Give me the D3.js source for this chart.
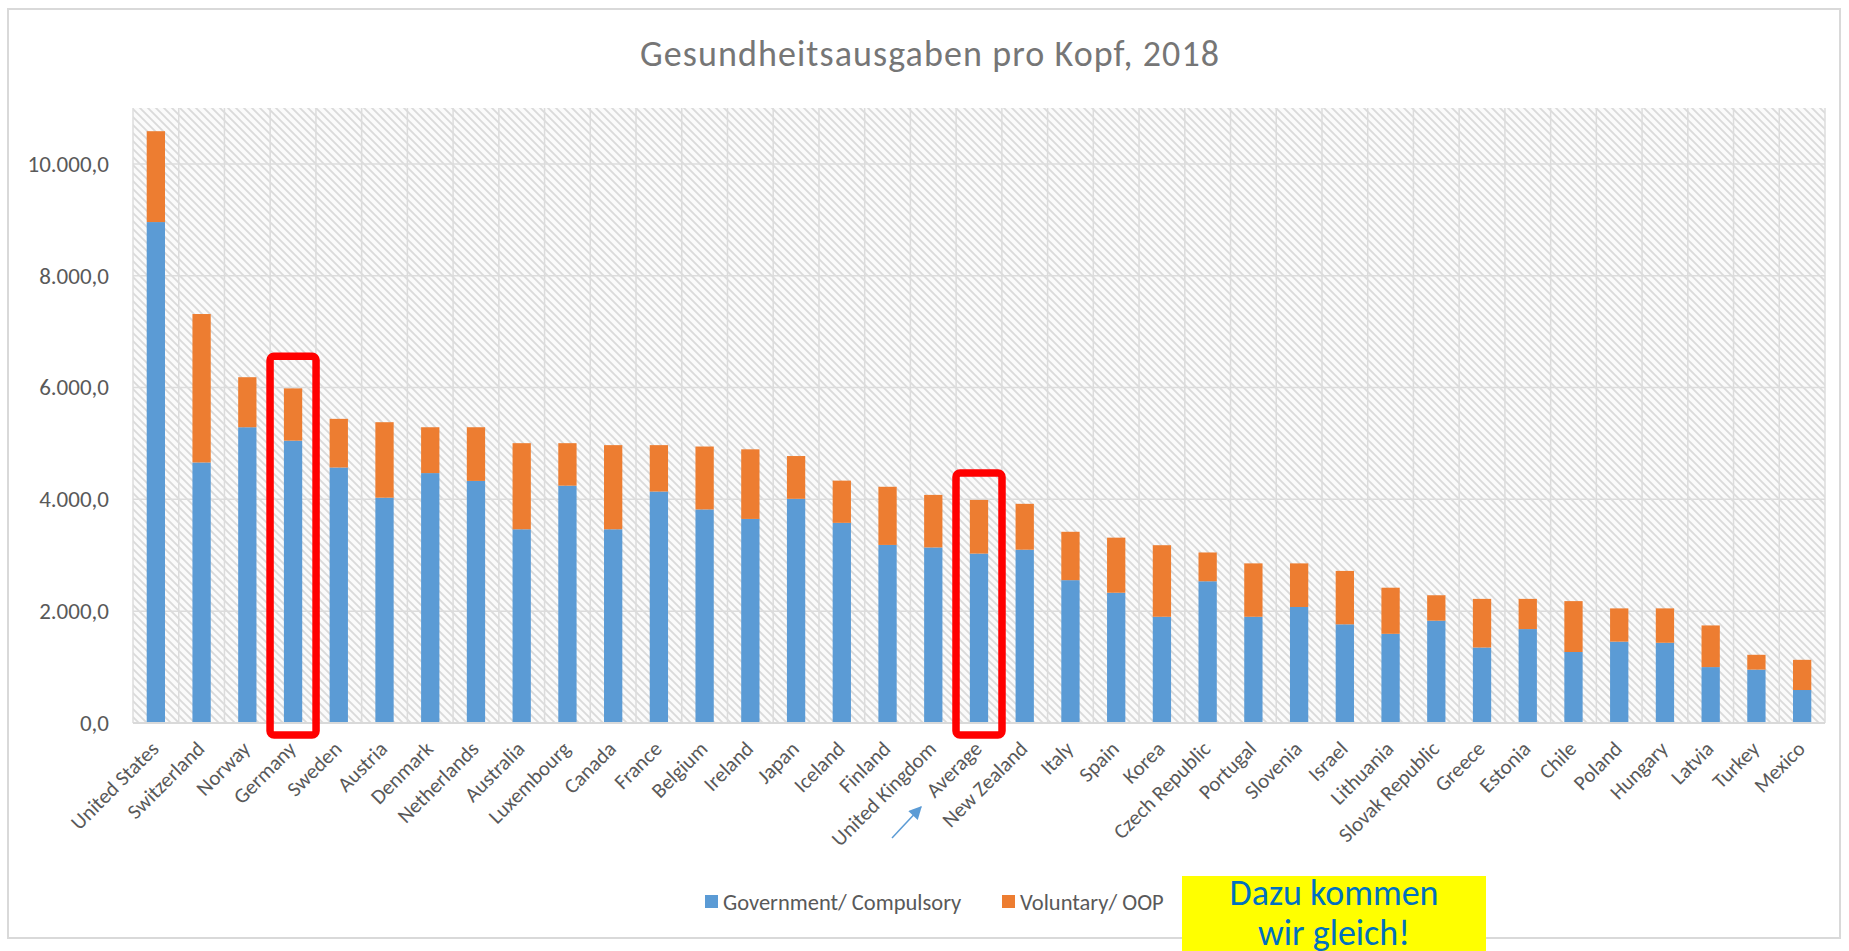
<!DOCTYPE html>
<html lang="de">
<head>
<meta charset="UTF-8" />
<title>Gesundheitsausgaben pro Kopf, 2018</title>
<style>
  body { margin: 0; background: #fff; }
  svg { display: block; font-family: Calibri, Carlito, Lato, sans-serif; }
</style>
</head>
<body>
<svg id="chart" width="1849" height="951"></svg>
<script src="https://d3js.org/d3.v7.min.js"></script>
<script>
// categories as in the chart, sorted by total spending
const countries = ["United States", "Switzerland", "Norway", "Germany", "Sweden", "Austria",
  "Denmark", "Netherlands", "Australia", "Luxembourg", "Canada", "France", "Belgium",
  "Ireland", "Japan", "Iceland", "Finland", "United Kingdom", "Average", "New Zealand",
  "Italy", "Spain", "Korea", "Czech Republic", "Portugal", "Slovenia", "Israel",
  "Lithuania", "Slovak Republic", "Greece", "Estonia", "Chile", "Poland", "Hungary",
  "Latvia", "Turkey", "Mexico"];

// Government/ Compulsory (per capita)
const government = [8960, 4660, 5290, 5050, 4570, 4030, 4470, 4330, 3465, 4245, 3465, 4140,
  3820, 3650, 4010, 3580, 3185, 3140, 3030, 3100, 2555, 2330, 1900, 2535, 1900, 2075,
  1765, 1595, 1830, 1350, 1680, 1270, 1455, 1435, 1000, 955, 590];

// totals
const total = [10585, 7315, 6185, 5985, 5440, 5380, 5290, 5290, 5005, 5005, 4970, 4970,
  4945, 4895, 4775, 4335, 4225, 4080, 3990, 3920, 3420, 3315, 3180, 3050, 2855, 2855,
  2720, 2420, 2285, 2220, 2220, 2180, 2050, 2050, 1745, 1220, 1130];

// Voluntary/ OOP = remainder
const voluntary = total.map((t, i) => t - government[i]);

const yTicks = [0, 2000, 4000, 6000, 8000, 10000];
const seriesNames = ["Government/ Compulsory", "Voluntary/ OOP"];
const seriesColors = ["#5b9bd5", "#ed7d31"];

// red boxes drawn on the slide
const highlights = ["Germany", "Average"];
const highlightTops = [6560, 4470];

const svg = d3.select("#chart");
const plot = { left: 133, right: 1825, top: 108, bottom: 723 };

// chart frame
svg.append("rect")
  .attr("x", 8).attr("y", 9).attr("width", 1832).attr("height", 929)
  .attr("fill", "#fff").attr("stroke", "#d9d9d9").attr("stroke-width", 2);

// hatched plot background
const defs = svg.append("defs");
const pat = defs.append("pattern")
  .attr("id", "hatch").attr("patternUnits", "userSpaceOnUse")
  .attr("width", 8).attr("height", 8);
pat.append("rect").attr("width", 8).attr("height", 8).attr("fill", "#fbfbfb");
pat.append("path")
  .attr("d", "M-2,-2 L10,10 M-2,6 L2,10 M6,-2 L10,2")
  .attr("stroke", "#dadada").attr("stroke-width", 1.8);

const x = d3.scaleBand()
  .domain(countries)
  .range([plot.left, plot.right])
  .paddingInner(0.6)
  .paddingOuter(0.3);

const y = d3.scaleLinear()
  .domain([0, 11000])
  .range([plot.bottom, plot.top]);

svg.append("rect")
  .attr("x", plot.left).attr("y", plot.top)
  .attr("width", plot.right - plot.left).attr("height", plot.bottom - plot.top)
  .attr("fill", "url(#hatch)");

// gridlines
const step = x.step();
svg.append("g").selectAll("line")
  .data(d3.range(countries.length + 1))
  .join("line")
  .attr("x1", i => plot.left + i * step).attr("x2", i => plot.left + i * step)
  .attr("y1", plot.top).attr("y2", plot.bottom)
  .attr("stroke", "#dcdcdc").attr("stroke-width", 1.5);

svg.append("g").selectAll("line")
  .data(yTicks)
  .join("line")
  .attr("x1", plot.left).attr("x2", plot.right)
  .attr("y1", d => y(d)).attr("y2", d => y(d))
  .attr("stroke", "#dcdcdc").attr("stroke-width", 1.5);

// y axis labels
const fmt = d3.formatLocale({ decimal: ",", thousands: ".", grouping: [3], currency: ["", "€"] }).format(",.1f");
const yAxis = svg.append("g")
  .attr("transform", `translate(${plot.left},0)`)
  .call(d3.axisLeft(y).tickValues(yTicks).tickSize(0).tickPadding(24).tickFormat(fmt));
yAxis.select(".domain").remove();
yAxis.selectAll("text")
  .attr("fill", "#595959").style("font-size", "23px")
  .style("font-family", "Calibri, Carlito, Lato, sans-serif");

// stacked bars
const rows = countries.map((c, i) => ({ country: c, gov: government[i], vol: voluntary[i] }));
const stack = d3.stack().keys(["gov", "vol"])(rows);

svg.append("g").selectAll("g")
  .data(stack)
  .join("g")
  .attr("fill", (d, i) => seriesColors[i])
  .selectAll("rect")
  .data(d => d)
  .join("rect")
  .attr("x", d => x(d.data.country))
  .attr("width", x.bandwidth())
  .attr("y", d => y(d[1]))
  .attr("height", d => y(d[0]) - y(d[1]));

// x axis line
svg.append("line")
  .attr("x1", plot.left).attr("x2", plot.right)
  .attr("y1", plot.bottom).attr("y2", plot.bottom)
  .attr("stroke", "#d9d9d9").attr("stroke-width", 2);

// rotated category labels
svg.append("g").selectAll("text")
  .data(countries)
  .join("text")
  .attr("transform", d => `translate(${x(d) + x.bandwidth() / 2 - 1},${plot.bottom + 22}) rotate(-45)`)
  .attr("text-anchor", "end")
  .attr("dy", "0.35em")
  .attr("fill", "#595959")
  .style("font-size", "21px")
  .text(d => d);

// title
svg.append("text")
  .attr("x", 930).attr("y", 66)
  .attr("text-anchor", "middle")
  .attr("fill", "#767676")
  .style("font-size", "36px")
  .style("letter-spacing", "1.1px")
  .text("Gesundheitsausgaben pro Kopf, 2018");

// legend
const legendX = [705, 1002];
const legend = svg.append("g").selectAll("g")
  .data(seriesNames)
  .join("g")
  .attr("transform", (d, i) => `translate(${legendX[i]},902)`);
legend.append("rect")
  .attr("x", 0).attr("y", -7).attr("width", 13).attr("height", 13)
  .attr("fill", (d, i) => seriesColors[i]);
legend.append("text")
  .attr("x", 18).attr("dy", "0.35em")
  .attr("fill", "#595959")
  .style("font-size", "22.5px")
  .text(d => d);

// red highlight boxes
svg.append("g").selectAll("rect")
  .data(highlights)
  .join("rect")
  .attr("x", d => x(d) + x.bandwidth() / 2 - 23)
  .attr("width", 46)
  .attr("y", (d, i) => y(highlightTops[i]))
  .attr("height", (d, i) => plot.bottom + 12 - y(highlightTops[i]))
  .attr("rx", 4)
  .attr("fill", "none")
  .attr("stroke", "#ff0000")
  .attr("stroke-width", 7.5);

// small blue arrow pointing at "Average"
defs.append("marker")
  .attr("id", "arrowhead").attr("viewBox", "0 0 10 10")
  .attr("refX", 9).attr("refY", 5)
  .attr("markerUnits", "userSpaceOnUse")
  .attr("markerWidth", 15).attr("markerHeight", 13)
  .attr("orient", "auto")
  .append("path").attr("d", "M0,0 L10,5 L0,10 Z").attr("fill", "#5b9bd5");
const avgX = x("Average") + x.bandwidth() / 2;
svg.append("line")
  .attr("x1", avgX - 87).attr("y1", 838)
  .attr("x2", avgX - 58).attr("y2", 807)
  .attr("stroke", "#5b9bd5").attr("stroke-width", 1.5)
  .attr("marker-end", "url(#arrowhead)");

// yellow note
svg.append("rect")
  .attr("x", 1182).attr("y", 876).attr("width", 304).attr("height", 80)
  .attr("fill", "#ffff00");
svg.append("text")
  .attr("x", 1334).attr("y", 905)
  .attr("text-anchor", "middle")
  .attr("fill", "#0070c0")
  .style("font-size", "36px")
  .selectAll("tspan")
  .data(["Dazu kommen", "wir gleich!"])
  .join("tspan")
  .attr("x", 1334)
  .attr("dy", (d, i) => i === 0 ? 0 : 40)
  .text(d => d);
</script>
</body>
</html>
